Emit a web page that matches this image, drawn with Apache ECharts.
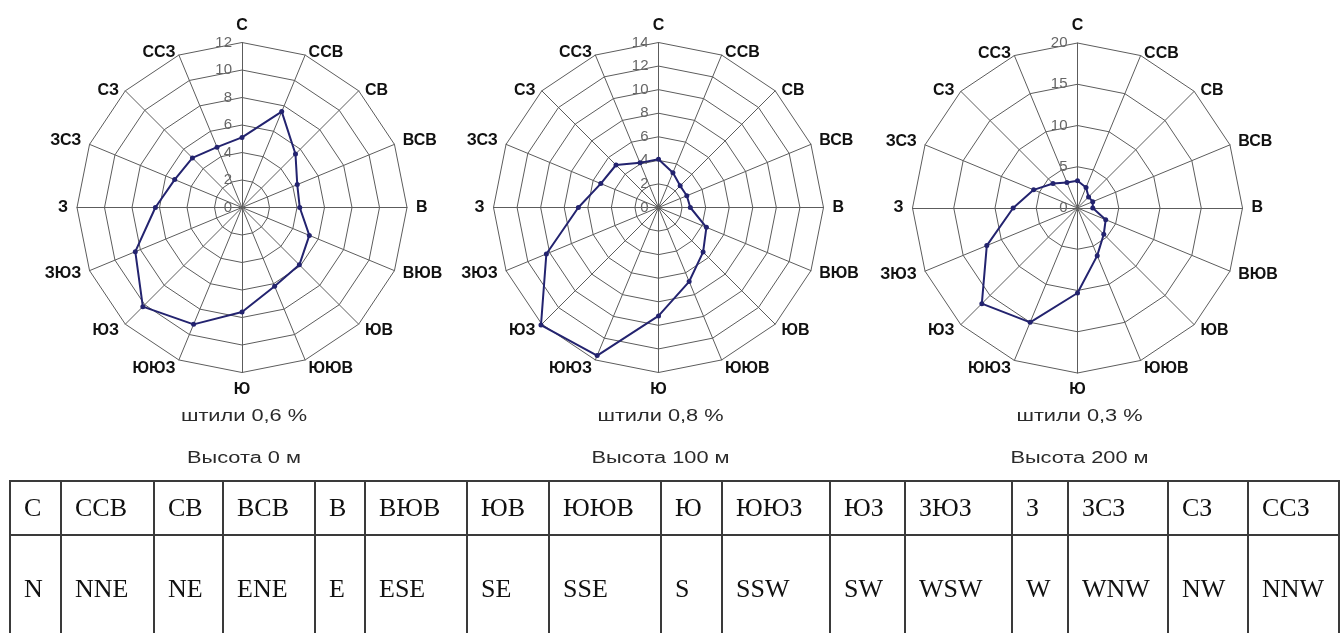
<!DOCTYPE html>
<html>
<head>
<meta charset="utf-8">
<script src="https://cdn.jsdelivr.net/npm/echarts@6/dist/echarts.min.js"></script>
<style>
  html, body { margin: 0; padding: 0; background: #fff; }
  #chart { position: absolute; left: 0; top: 0; width: 1340px; height: 633px; }
  #dirs {
    position: absolute; left: 9px; top: 480px;
    border-collapse: collapse; table-layout: fixed;
    font-family: "Liberation Serif", "Times New Roman", serif;
    font-size: 26px; color: #111;
  }
  #dirs td {
    border: 2px solid #3a3a3a; padding: 0 0 0 13px;
    vertical-align: middle; white-space: nowrap; overflow: hidden;
  }
</style>
</head>
<body>
<div id="chart"></div>
<table id="dirs"><colgroup id="cols"></colgroup><tbody id="rows"></tbody></table>
<script>
// Compass points, clockwise from north
const dirRu = ['С', 'ССВ', 'СВ', 'ВСВ', 'В', 'ВЮВ', 'ЮВ', 'ЮЮВ', 'Ю', 'ЮЮЗ', 'ЮЗ', 'ЗЮЗ', 'З', 'ЗСЗ', 'СЗ', 'ССЗ'];
const dirEn = ['N', 'NNE', 'NE', 'ENE', 'E', 'ESE', 'SE', 'SSE', 'S', 'SSW', 'SW', 'WSW', 'W', 'WNW', 'NW', 'NNW'];

// Wind direction frequency, %, clockwise from north
const freqH0   = [5.1, 7.55, 5.5, 4.35, 4.2, 5.3, 5.9, 6.2, 7.6, 9.2, 10.2, 8.4, 6.3, 5.3, 5.1, 4.75];
const freqH100 = [4.1, 3.2, 2.6, 2.6, 2.7, 4.4, 5.35, 6.8, 9.2, 13.6, 14.1, 10.3, 6.8, 5.3, 5.1, 4.1];
const freqH200 = [3.3, 2.7, 1.9, 2.0, 1.85, 3.7, 4.5, 6.25, 10.3, 15.0, 16.4, 11.9, 7.8, 5.75, 4.2, 3.35];

// Radial scale of each rose: top value and number of rings
const axisMax = [12, 14, 20];
const axisSplits = [6, 7, 4];

const calmText = ['штили 0,6 %', 'штили 0,8 %', 'штили 0,3 %'];
const heightText = ['Высота 0 м', 'Высота 100 м', 'Высота 200 м'];

// ---- layout ----
const series = [freqH0, freqH100, freqH200];
const centers = [[242, 207.5], [658.5, 207.5], [1077.5, 208]];
const RADIUS = 165;
const LINE = '#5c5c5c';
const ROSE = '#23236f';
const FONT = 'Liberation Sans, Arial, sans-serif';
const colEdges = [9, 60, 153, 222, 314, 364, 466, 548, 660, 721, 829, 904, 1011, 1067, 1167, 1247, 1338];

// ECharts lays radar indicators counter-clockwise, so walk the compass backwards
const ccwOrder = dirRu.map((_, i) => (16 - i) % 16);
// names on the upper diagonals sit a little lower, level with their spoke tips
const lowered = new Set(['ССВ', 'СВ', 'СЗ', 'ССЗ']);

const nameStyle = { color: '#111', fontFamily: FONT, fontWeight: 'bold', fontSize: 16 };

const chart = echarts.init(document.getElementById('chart'), null, { renderer: 'canvas' });

const radar = centers.map((c, k) => ({
  center: c,
  radius: RADIUS,
  startAngle: 90,
  shape: 'polygon',
  splitNumber: axisSplits[k],
  nameGap: 9,
  indicator: ccwOrder.map((d, j) => ({
    name: dirRu[d], min: 0, max: axisMax[k],
    axisLabel: { show: j === 0 }
  })),
  axisName: Object.assign({}, nameStyle, {
    formatter: name => lowered.has(name) ? '{lo|' + name + '}' : name,
    rich: { lo: Object.assign({ padding: [12, 0, 0, 0] }, nameStyle) }
  }),
  axisLine: { lineStyle: { color: LINE, width: 1 } },
  splitLine: { lineStyle: { color: LINE, width: 1 } },
  splitArea: { show: false },
  axisTick: { show: false },
  axisLabel: { show: false, color: '#666', fontSize: 15, fontFamily: FONT, margin: 10 }
}));

const roseSeries = series.map((vals, k) => ({
  type: 'radar',
  radarIndex: k,
  symbol: 'circle',
  symbolSize: 5,
  lineStyle: { color: ROSE, width: 2 },
  itemStyle: { color: ROSE },
  silent: true,
  data: [{ value: ccwOrder.map(d => vals[d]) }]
}));

// Captions under each rose
const captions = [];
centers.forEach((c, k) => {
  [[calmText[k], 416.5], [heightText[k], 458.7]].forEach(([txt, y]) => {
    captions.push({
      type: 'text', x: c[0] + 2, y: y, scaleX: 1.36, silent: true,
      style: {
        text: txt, x: 0, y: 0, textAlign: 'center', textVerticalAlign: 'middle',
        fill: '#2a2a2a', font: '16px "Liberation Sans", Arial, sans-serif'
      }
    });
  });
});

chart.setOption({
  animation: false,
  radar: radar,
  series: roseSeries,
  graphic: captions
});

// Direction name table
const cols = document.getElementById('cols');
for (let i = 0; i < dirRu.length; i++) {
  const col = document.createElement('col');
  col.style.width = (colEdges[i + 1] - colEdges[i]) + 'px';
  cols.appendChild(col);
}
const rows = document.getElementById('rows');
[[dirRu, 54], [dirEn, 108]].forEach(([labels, h]) => {
  const tr = document.createElement('tr');
  tr.style.height = h + 'px';
  labels.forEach(t => {
    const td = document.createElement('td');
    td.textContent = t;
    tr.appendChild(td);
  });
  rows.appendChild(tr);
});
</script>
</body>
</html>
